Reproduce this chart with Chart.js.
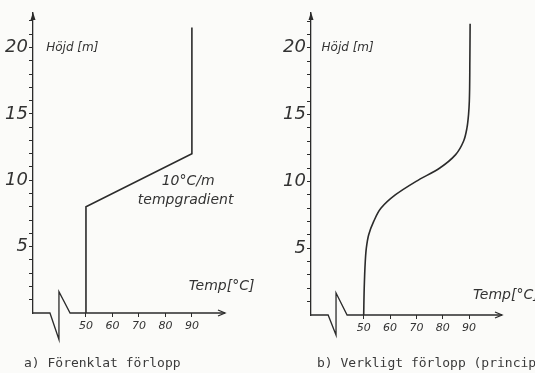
<!DOCTYPE html>
<html>
<head>
<meta charset="utf-8">
<script src="https://cdn.jsdelivr.net/npm/chart.js@4.4.1/dist/chart.umd.min.js"></script>
<style>
  body { margin: 0; background: #fbfbf9; width: 535px; height: 373px; overflow: hidden; position: relative; }
  .pane { position: absolute; top: 0; height: 373px; }
  .cap { position: absolute; top: 355px; font: 13px "DejaVu Sans Mono"; color: #3a3a3a; white-space: nowrap; }
</style>
</head>
<body>
<div class="pane" style="left:0;width:267px"><canvas id="chartA"></canvas></div>
<div class="pane" style="left:267px;width:268px"><canvas id="chartB"></canvas></div>
<div class="cap" style="left:24px">a) Förenklat förlopp</div>
<div class="cap" style="left:317px">b) Verkligt förlopp (princip)</div>
<script>
// a) simplified profile
const tempA = [50, 50, 90, 90];
const heightA = [0, 8, 12, 21.5];

// b) real profile (in principle)
const tempB = [50, 50.2, 50.6, 51.0, 51.9, 53.8, 56.6, 62.1, 69.9, 78.9, 84.9, 87.9, 89.2, 89.8, 90.1, 90.3, 90.4];
const heightB = [0, 2, 4, 5, 6, 7, 8, 9, 10, 11, 12, 13, 14, 15, 16, 19, 21.8];

// axes
const tempTicks = [50, 60, 70, 80, 90];
const heightTicks = [1, 2, 3, 4, 5, 6, 7, 8, 9, 10, 11, 12, 13, 14, 15, 16, 17, 18, 19, 20, 21, 22];
const heightLabels = [5, 10, 15, 20];

const ink = '#2b2b2b';
const hand = '"DejaVu Sans"';

// x axis with break symbol, arrows and handwritten notes
const decor = {
  id: 'decor',
  afterDraw(chart, args, o) {
    const { ctx, chartArea: a, scales: { x, y } } = chart;
    const px = v => x.getPixelForValue(v);
    const py = v => y.getPixelForValue(v);
    const y0 = py(0);
    ctx.save();
    ctx.strokeStyle = ink;
    ctx.lineWidth = 1.3;
    ctx.beginPath();
    ctx.moveTo(a.left, y0);
    ctx.lineTo(px(o.brk[0]), y0);
    ctx.lineTo(px(o.brk[1]), py(o.brk[2]));
    ctx.lineTo(px(o.brk[1]), py(o.brk[3]));
    ctx.lineTo(px(o.brk[4]), y0);
    ctx.lineTo(a.right, y0);
    ctx.stroke();
    // arrow heads
    ctx.beginPath();
    ctx.moveTo(a.right - 7, y0 - 3);
    ctx.lineTo(a.right, y0);
    ctx.lineTo(a.right - 7, y0 + 3);
    ctx.stroke();
    ctx.fillStyle = ink;
    ctx.beginPath();
    ctx.moveTo(a.left, a.top - 1);
    ctx.lineTo(a.left - 2.5, a.top + 7);
    ctx.lineTo(a.left + 2.5, a.top + 7);
    ctx.closePath();
    ctx.fill();
    // notes
    ctx.fillStyle = '#333';
    ctx.textBaseline = 'middle';
    ctx.textAlign = 'left';
    o.notes.forEach(n => {
      ctx.font = 'italic ' + n.size + 'px ' + hand;
      ctx.fillText(n.text, px(n.t), py(n.h));
    });
    ctx.restore();
  }
};

function makeChart(id, temps, heights, opt) {
  return new Chart(document.getElementById(id), {
    type: 'line',
    data: {
      datasets: [{
        data: temps.map((t, i) => ({ x: t, y: heights[i] })),
        borderColor: ink,
        borderWidth: 1.6,
        pointRadius: 0,
        cubicInterpolationMode: opt.smooth ? 'monotone' : 'default',
        tension: 0,
        fill: false
      }]
    },
    options: {
      indexAxis: 'y', // height is the independent variable
      responsive: true,
      maintainAspectRatio: false,
      animation: false,
      layout: { padding: { left: 0, top: 13, right: opt.right, bottom: opt.bottom } },
      plugins: {
        legend: { display: false },
        tooltip: { enabled: false },
        decor: { brk: opt.brk, notes: opt.notes }
      },
      scales: {
        x: {
          type: 'linear',
          position: 'bottom',
          min: 30,
          max: 102.5,
          afterBuildTicks: s => { s.ticks = tempTicks.map(v => ({ value: v })); },
          afterFit: s => { s.height = 30; },
          border: { display: false },
          grid: { drawOnChartArea: false, tickLength: 4, color: ink, lineWidth: 1 },
          ticks: { padding: 3, color: '#333', font: { family: hand, size: 11, style: 'italic' } }
        },
        y: {
          type: 'linear',
          position: 'left',
          min: 0,
          max: 22.6,
          afterBuildTicks: s => { s.ticks = heightTicks.map(v => ({ value: v })); },
          afterFit: s => { s.width = opt.left; },
          border: { display: true, color: ink, width: 1.3 },
          grid: { drawOnChartArea: false, tickLength: 4, color: ink, lineWidth: 1 },
          ticks: {
            autoSkip: false,
            padding: 1,
            color: '#333',
            font: { family: hand, size: 18, style: 'italic' },
            callback: v => heightLabels.includes(v) ? String(v) : ''
          }
        }
      }
    },
    plugins: [decor]
  });
}

makeChart('chartA', tempA, heightA, {
  smooth: false, left: 33, right: 42, bottom: 30,
  brk: [36.4, 39.8, -2.0, 1.6, 44],
  notes: [
    { text: 'Höjd [m]', t: 35, h: 20, size: 12 },
    { text: 'Temp[°C]', t: 88.8, h: 2.0, size: 14 },
    { text: '10°C/m', t: 78.6, h: 9.9, size: 14 },
    { text: 'tempgradient', t: 69.6, h: 8.45, size: 14 }
  ]
});

makeChart('chartB', tempB, heightB, {
  smooth: true, left: 44, right: 33, bottom: 28,
  brk: [36.5, 39.5, -1.5, 1.65, 43.7],
  notes: [
    { text: 'Höjd [m]', t: 34, h: 20, size: 12 },
    { text: 'Temp[°C]', t: 91.5, h: 1.5, size: 14 }
  ]
});
</script>
</body>
</html>
